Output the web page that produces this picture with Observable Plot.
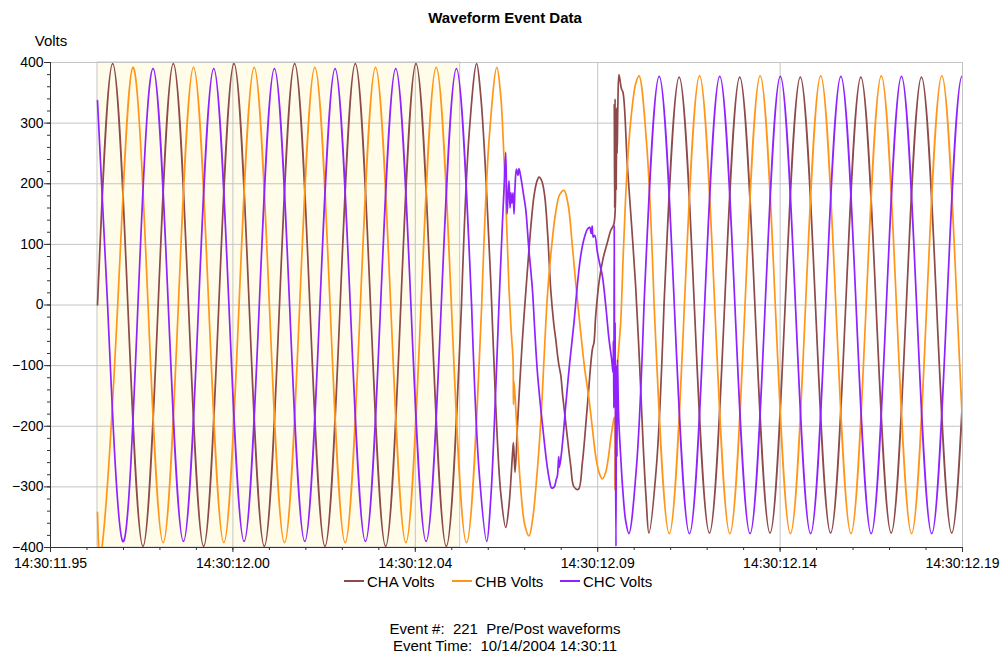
<!DOCTYPE html>
<html><head><meta charset="utf-8">
<script src="https://cdn.jsdelivr.net/npm/d3@7"></script>
<script src="https://cdn.jsdelivr.net/npm/@observablehq/plot@0.6"></script>
<style>
body{margin:0;background:#fff;font-family:"Liberation Sans",Arial,sans-serif;}
#wrap{position:relative;width:1003px;height:656px;overflow:hidden;background:#fff}
#wrap svg{position:absolute;left:0;top:0}
.t{position:absolute;white-space:pre;color:#000;font-size:15px;line-height:1;transform:translate(-50%,-50%)}
.lg{position:absolute;white-space:pre;color:#000;font-size:15px;line-height:1;transform:translateY(-50%)}
.sw{position:absolute;height:2px;width:20px;transform:translateY(-50%)}
</style></head>
<body><div id="wrap"></div>
<script>
// ---- axis / labels ----
const xTickValues = [945, 995, 1045, 1095, 1145, 1195]; // ms after 14:30:11
const xTickLabels = ["14:30:11.95","14:30:12.00","14:30:12.04","14:30:12.09","14:30:12.14","14:30:12.19"];
const xMinorTicks = [945,955,965,975,985,995,1005,1015,1025,1035,1045,1055,1065,1075,1085,1095,1105,1115,1125,1135,1145,1155,1165,1175,1185,1195];
const yTickValues = [-400,-300,-200,-100,0,100,200,300,400];
const yMinorTicks = [-400,-380,-360,-340,-320,-300,-280,-260,-240,-220,-200,-180,-160,-140,-120,-100,-80,-60,-40,-20,0,20,40,60,80,100,120,140,160,180,200,220,240,260,280,300,320,340,360,380,400];
const seriesNames = ["CHA Volts","CHB Volts","CHC Volts"];
const preWindow = [957.88, 1057.3]; // highlighted pre-event window (ms)

// ---- CHA ----
const chaPreT = [957.88,962.04,966.20,970.35,974.51,978.67,982.83,986.98,991.14,995.30,999.46,1003.61,1007.77,1011.93,1016.09,1020.24,1024.40,1028.56,1032.72,1036.87,1041.03,1045.19,1049.35,1053.50,1057.66];
const chaPreV = [0,398,0,-398,0,398,0,-398,0,398,0,-398,0,398,0,-398,0,398,0,-398,0,398,0,-398,0];
const chaEventT = [1057.66,1059.74,1061.82,1062.94,1064.31,1065.68,1067.05,1068.42,1069.79,1070.69,1071.63,1071.90,1072.34,1073.00,1073.63,1074.37,1075.27,1076.17,1076.91,1077.54,1078.28,1078.91,1079.65,1080.47,1081.30,1082.12,1082.94,1083.49,1084.04,1084.39,1084.86,1085.41,1086.23,1087.60,1088.50,1089.71,1090.80,1092.17,1093.54,1093.98,1094.45,1095.35,1096.45,1097.65,1098.56,1099.46,1099.54,1099.65,1099.76,1099.87,1099.98,1100.09,1100.20,1100.34,1100.53,1100.83,1101.49,1101.93,1103.13,1104.31,1105.41,1106.50,1107.46,1108.28,1109.03,1111.10,1113.18];
const chaEventV = [0,281,398,345,215,40,-166,-310,-367,-330,-247,-227,-276,-199,-130,-56,20,92,145,180,203,211,205,180,115,26,-30,-56,-85,-100,-115,-150,-194,-265,-300,-304,-260,-166,-73,-62,-18,37,76,103,123,134,330,160,340,200,320,190,325,250,330,380,357,351,230,130,30,-100,-230,-320,-376,-266,0];
const chaPostT = [1113.18,1117.33,1121.48,1125.63,1129.79,1133.94,1138.09,1142.24,1146.39,1150.54,1154.69,1158.84,1162.99,1167.14,1171.30,1175.45,1179.60,1183.75,1187.90,1192.05,1196.20];
const chaPostV = [0,376,0,-376,0,376,0,-376,0,376,0,-376,0,376,0,-376,0,376,0,-376,0];

// ---- CHB ----
const chbPreT = [957.88,959.27,963.42,967.58,971.74,975.89,980.05,984.21,988.37,992.52,996.68,1000.84,1005.00,1009.15,1013.31,1017.47,1021.63,1025.78,1029.94,1034.10,1038.26,1042.41,1046.57,1050.73,1054.89,1059.04,1063.20];
const chbPreV = [-342,-392,0,392,0,-392,0,392,0,-392,0,392,0,-392,0,392,0,-392,0,392,0,-392,0,392,0,-392,0];
const chbEventT = [1063.20,1065.28,1067.36,1068.42,1069.32,1070.06,1070.69,1071.30,1071.79,1071.90,1072.06,1072.80,1073.90,1074.99,1076.17,1077.19,1078.28,1079.38,1080.28,1081.21,1082.39,1083.49,1084.58,1085.76,1086.91,1088.01,1088.97,1090.34,1091.43,1092.61,1093.63,1094.45,1095.35,1096.28,1097.19,1098.01,1098.56,1099.10,1099.54,1099.73,1099.98,1100.48,1101.30,1101.98,1102.67,1103.57,1104.50,1105.41,1106.32,1108.40,1110.47];
const chbEventV = [0,277,392,345,241,130,26,-45,-90,-164,-125,-200,-303,-362,-381,-352,-285,-194,-90,15,98,153,182,189,165,100,37,-45,-105,-155,-208,-249,-276,-287,-276,-248,-221,-200,-185,-305,-160,-95,-29,80,180,270,329,365,378,267,0];
const chbPostT = [1110.47,1114.62,1118.77,1122.92,1127.08,1131.23,1135.38,1139.53,1143.68,1147.83,1151.98,1156.13,1160.28,1164.43,1168.59,1172.74,1176.89,1181.04,1185.19,1189.34,1193.49,1197.64,1201.79];
const chbPostV = [0,-377,0,378,0,-377,0,378,0,-377,0,378,0,-377,0,378,0,-377,0,378,0,-377,0];

// ---- CHC ----
const chcPreT = [957.88,960.65,964.81,968.97,973.12,977.28,981.44,985.60,989.75,993.91,998.07,1002.23,1006.38,1010.54,1014.70,1018.86,1023.01,1027.17,1031.33,1035.49,1039.64,1043.80,1047.96,1052.12,1056.27,1060.43];
const chcPreV = [337,0,-390,0,390,0,-390,0,390,0,-390,0,390,0,-390,0,390,0,-390,0,390,0,-390,0,390,0];
const chcEventT = [1060.43,1062.51,1064.59,1065.68,1067.05,1067.87,1068.89,1069.38,1069.79,1070.15,1070.42,1070.69,1070.97,1071.21,1071.49,1071.79,1072.06,1072.34,1072.72,1073.16,1073.43,1073.71,1074.09,1074.72,1075.27,1076.09,1077.10,1077.73,1078.47,1079.38,1080.28,1081.02,1081.65,1082.39,1083.08,1083.63,1083.95,1084.31,1084.47,1084.86,1085.55,1086.23,1087.33,1088.50,1089.38,1090.34,1091.30,1092.17,1092.80,1093.22,1093.49,1093.77,1094.18,1094.92,1095.55,1096.28,1097.19,1098.09,1098.83,1099.19,1099.32,1099.43,1099.54,1099.65,1099.76,1099.87,1100.01,1100.15,1100.28,1100.42,1100.75,1101.30,1101.84,1102.67,1103.55,1105.63,1107.70];
const chcEventV = [0,-276,-390,-320,-139,-10,136,200,252,150,180,205,160,185,168,185,150,195,224,214,225,218,205,180,158,95,26,-40,-111,-170,-221,-260,-285,-302,-300,-288,-282,-250,-268,-255,-215,-166,-95,-29,30,81,110,125,128,118,130,112,115,87,68,48,0,-56,-90,-111,-60,-170,130,-150,-30,-200,-398,-100,-250,-90,-185,-249,-302,-356,-377,-267,0];
const chcPostT = [1107.70,1111.85,1116.00,1120.15,1124.31,1128.46,1132.61,1136.76,1140.91,1145.06,1149.21,1153.36,1157.51,1161.66,1165.82,1169.97,1174.12,1178.27,1182.42,1186.57,1190.72,1194.87,1199.02];
const chcPostV = [0,377,0,-377,0,377,0,-377,0,377,0,-377,0,377,0,-377,0,377,0,-377,0,377,0];

const colors = ["#8c4a48", "#ff9619", "#8f22ff"];

function rows(T, V, seg) { return T.map((t, i) => ({time: t, volts: V[i], seg})); }

const channels = [
  {smooth: [...rows(chaPreT, chaPreV, "pre"), ...rows(chaPostT, chaPostV, "post")], event: rows(chaEventT, chaEventV, "ev")},
  {smooth: [...rows(chbPreT, chbPreV, "pre"), ...rows(chbPostT, chbPostV, "post")], event: rows(chbEventT, chbEventV, "ev")},
  {smooth: [...rows(chcPreT, chcPreV, "pre"), ...rows(chcPostT, chcPostV, "post")], event: rows(chcEventT, chcEventV, "ev")}
];

const labelByTick = new Map(xTickValues.map((v, i) => [v, xTickLabels[i]]));
const grid = "#c4c4c4";
const lineMarks = [];
channels.forEach((c, i) => {
  lineMarks.push(Plot.line(c.smooth, {x: "time", y: "volts", z: "seg", stroke: colors[i], strokeWidth: 1.7, curve: "natural", clip: true}));
  lineMarks.push(Plot.line(c.event, {x: "time", y: "volts", stroke: colors[i], strokeWidth: 1.7, curve: "catmull-rom", clip: true, strokeLinejoin: "round"}));
});

const chart = Plot.plot({
  width: 1003, height: 656,
  marginLeft: 50, marginRight: 41, marginTop: 62, marginBottom: 109,
  x: {domain: [945, 1195]},
  y: {domain: [-400, 400]},
  style: {fontFamily: '"Liberation Sans", Arial, sans-serif', fontSize: "14px", color: "#000", background: "transparent", overflow: "visible"},
  marks: [
    Plot.rect([preWindow], {x1: d => d[0], x2: d => d[1], y1: -400, y2: 400, fill: "#fffdea", stroke: "#c8c8c8", strokeWidth: 1}),
    Plot.ruleY(yTickValues.filter(v => v > -400 && v < 400), {stroke: grid, strokeWidth: 1}),
    Plot.ruleX(xTickValues.filter(v => v > 945 && v < 1195), {stroke: grid, strokeWidth: 1}),
    Plot.ruleY([400], {stroke: "#c4c4c4"}),
    Plot.ruleX([1195], {stroke: "#c4c4c4"}),
    ...lineMarks,
    Plot.ruleX([945], {stroke: "#333", strokeWidth: 1}),
    Plot.ruleY([-400], {stroke: "#333", strokeWidth: 1}),
    Plot.axisY(yMinorTicks, {anchor: "left", tickSize: 3, tickFormat: () => "", label: null, stroke: "#333"}),
    Plot.axisY(yTickValues, {anchor: "left", tickSize: 6, tickPadding: 1, fontSize: 14, label: null, stroke: "#333", fill: "#000"}),
    Plot.axisX(xMinorTicks, {anchor: "bottom", tickSize: 3, tickFormat: () => "", label: null, stroke: "#333"}),
    Plot.axisX(xTickValues, {anchor: "bottom", tickSize: 5, tickPadding: 6, fontSize: 14, label: null, stroke: "#333", fill: "#000", tickFormat: d => labelByTick.get(d)})
  ]
});

const wrap = document.getElementById("wrap");
wrap.appendChild(chart);

function addText(cls, txt, left, top, extra) {
  const d = document.createElement("div");
  d.className = cls; d.textContent = txt;
  d.style.left = left + "px"; d.style.top = top + "px";
  if (extra) Object.assign(d.style, extra);
  wrap.appendChild(d);
  return d;
}
addText("t", "Waveform Event Data", 505, 17, {fontWeight: "bold"});
addText("t", "Volts", 51, 40);
const swLeft = [344, 452, 560];
seriesNames.forEach((n, i) => {
  const s = document.createElement("div");
  s.className = "sw"; s.style.left = swLeft[i] + "px"; s.style.top = "581px"; s.style.background = colors[i];
  wrap.appendChild(s);
  addText("lg", n, swLeft[i] + 23, 581);
});
addText("t", "Event #:  221  Pre/Post waveforms", 505, 628);
addText("t", "Event Time:  10/14/2004 14:30:11", 505, 645);
</script>
</body></html>
